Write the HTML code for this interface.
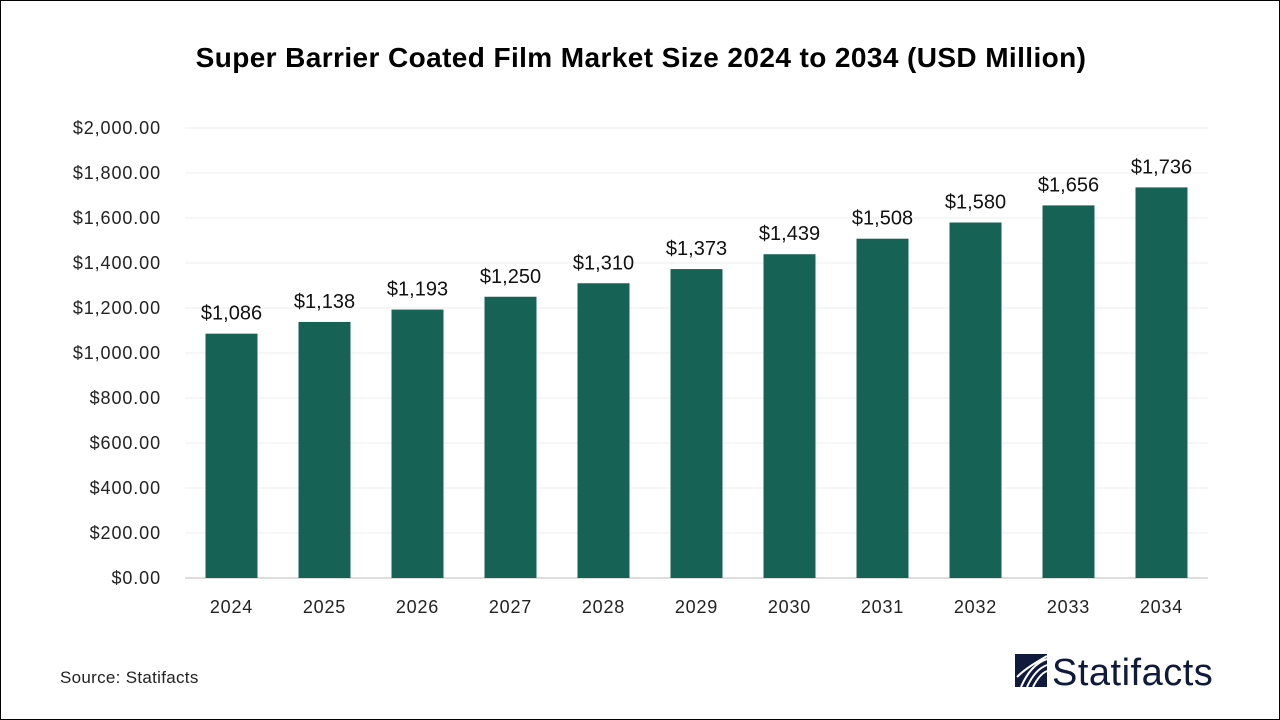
<!DOCTYPE html>
<html><head><meta charset="utf-8"><style>
body{margin:0;background:#fff;}
#wrap{position:relative;width:1278px;height:718px;border:1px solid #000;overflow:hidden;font-family:"Liberation Sans",sans-serif;}
</style></head><body>
<div id="wrap">
<svg id="chart" width="1278" height="718">
<text x="640" y="66" text-anchor="middle" font-size="28" font-weight="bold" letter-spacing="0.4" fill="#000">Super Barrier Coated Film Market Size 2024 to 2034 (USD Million)</text>
<g id="grid"></g><g id="bars"></g><g id="labels"></g>
<text x="59" y="682" font-size="17" letter-spacing="0.3" fill="#222">Source: Statifacts</text>
<g>
<rect x="1014" y="653" width="32" height="33" fill="#0f1a3c"/>
<path d="M1020 686 C1026 672,1034 662,1046 658 M1026 686 C1031 675,1038 667,1046 664 M1032 686 C1036 678,1041 672,1046 670 M1016 676 C1024 668,1034 662,1046 655" stroke="#fff" stroke-width="2" fill="none"/>
<text x="1051" y="684" font-size="38" letter-spacing="0.5" fill="#0f1a3c">Statifacts</text>
</g>
</svg>
</div>
<script>
const categories=["2024","2025","2026","2027","2028","2029","2030","2031","2032","2033","2034"];
const values=[1086,1138,1193,1250,1310,1373,1439,1508,1580,1656,1736];
const valueLabels=["$1,086","$1,138","$1,193","$1,250","$1,310","$1,373","$1,439","$1,508","$1,580","$1,656","$1,736"];
const yTicks=[0,200,400,600,800,1000,1200,1400,1600,1800,2000];
const ns="http://www.w3.org/2000/svg";
const x0=184,x1=1207,y0=577,yTop=127,yMax=2000;
const y=v=>y0-(v/yMax)*(y0-yTop);
const step=(x1-x0)/categories.length;
const xc=i=>x0+step*(i+0.5);
function mk(t,a,p){const e=document.createElementNS(ns,t);for(const k in a)e.setAttribute(k,a[k]);p.appendChild(e);return e;}
const g=document.getElementById('grid'),b=document.getElementById('bars'),l=document.getElementById('labels');
yTicks.forEach(v=>{
 const ln=mk('line',{x1:x0,x2:x1,y1:y(v),y2:y(v),stroke:v===0?'#bbb':'#ececec','stroke-width':1},g);
 
 
 const t=mk('text',{x:160,y:y(v)+6,'text-anchor':'end','font-size':18,'letter-spacing':0.9,fill:'#222'},g);
 t.textContent='$'+v.toLocaleString('en-US',{minimumFractionDigits:2});
 
 
});
const bw=52;
values.forEach((v,i)=>{
 const r=mk('rect',{x:xc(i)-bw/2,y:y(v),width:bw,height:y0-y(v),fill:'#166355'},b);
 
 
 const t=mk('text',{x:xc(i),y:y(v)-14,'text-anchor':'middle','font-size':20,fill:'#111'},l);
 t.textContent=valueLabels[i];
 
 
 const c=mk('text',{x:xc(i),y:612,'text-anchor':'middle','font-size':18,'letter-spacing':0.8,fill:'#222'},l);
 c.textContent=categories[i];
 
 
});
</script>
</body></html>
